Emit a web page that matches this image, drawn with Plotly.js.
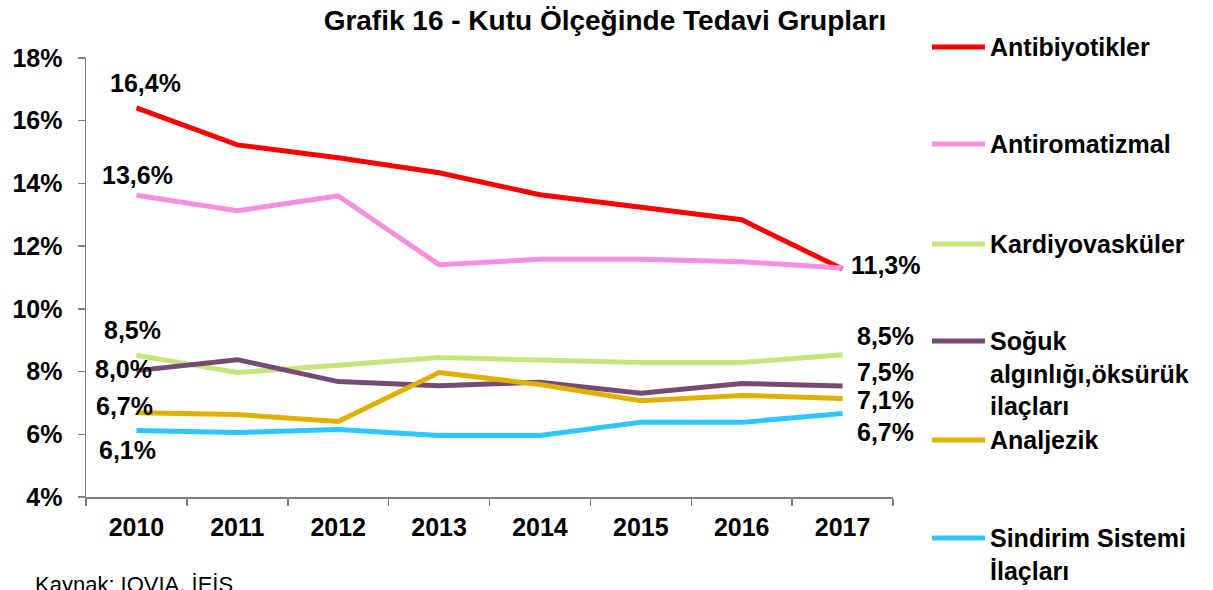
<!DOCTYPE html>
<html>
<head>
<meta charset="utf-8">
<script src="https://cdn.plot.ly/plotly-3.0.1.min.js"></script>
<style>html,body{margin:0;padding:0;background:#fff;}#chart{width:1213px;height:590px;}</style>
</head>
<body>
<div id="chart"></div>
<script>
var years = ['2010','2011','2012','2013','2014','2015','2016','2017'];
var antibiyotikler = [16.41, 15.23, 14.82, 14.34, 13.64, 13.25, 12.84, 11.27];
var antiromatizmal = [13.62, 13.13, 13.60, 11.41, 11.58, 11.58, 11.50, 11.30];
var kardiyovaskuler = [8.52, 7.97, 8.20, 8.45, 8.37, 8.29, 8.29, 8.54];
var soguk = [8.03, 8.38, 7.68, 7.55, 7.66, 7.31, 7.62, 7.54];
var analjezik = [6.69, 6.63, 6.41, 7.97, 7.59, 7.07, 7.24, 7.14];
var sindirim = [6.12, 6.06, 6.15, 5.96, 5.96, 6.38, 6.38, 6.66];
var seriesNames = ['Antibiyotikler', 'Antiromatizmal', 'Kardiyovasküler',
  'Soğuk<br>algınlığı,öksürük<br>ilaçları', 'Analjezik', 'Sindirim Sistemi<br>İlaçları'];
var colors = ['#FF0000', '#F48FE2', '#C6E67A', '#774A76', '#E0B000', '#2CC7FF'];

var seriesData = [antibiyotikler, antiromatizmal, kardiyovaskuler, soguk, analjezik, sindirim];
var font = 'Liberation Sans, Arial, sans-serif';

var traces = seriesData.map(function(vals, i){
  return {x: years, y: vals, type: 'scatter', mode: 'lines', name: seriesNames[i],
    line: {color: colors[i], width: 5}, showlegend: false, hoverinfo: 'x+y'};
});

function fmt(v){ return v.toFixed(1).replace('.', ',') + '%'; }

// label placement (series index, point index, anchor, xshift, yshift)
var labelSpecs = [
  [0, 0, 'center', 9, 25],
  [1, 0, 'center', 1, 20],
  [2, 0, 'center', -4, 25],
  [3, 0, 'center', -13, 2],
  [4, 0, 'center', -12, 7],
  [5, 0, 'center', -9, -19],
  [0, 7, 'left', 6, 4],
  [2, 7, 'left', 12, 19],
  [3, 7, 'left', 12, 14],
  [4, 7, 'left', 12, -1],
  [5, 7, 'left', 12, -18]
];
var annotations = labelSpecs.map(function(s){
  var v = seriesData[s[0]][s[1]];
  return {x: s[1], y: v, xref: 'x', yref: 'y', text: '<b>' + fmt(v) + '</b>',
    showarrow: false, xanchor: s[2], yanchor: 'middle', xshift: s[3], yshift: s[4],
    font: {family: font, size: 25, color: '#000'}};
});

// legend drawn manually to match the irregular spacing; plot area spans x 86..893, y 58..497
var legendY = [47, 144, 244, 341, 440, 538];
var shapes = legendY.map(function(py, i){
  var yp = (497 - py) / (497 - 58);
  return {type: 'line', xref: 'paper', yref: 'paper',
    x0: (932 - 86) / 807, x1: (985 - 86) / 807, y0: yp, y1: yp,
    line: {color: colors[i], width: 5}};
});
legendY.forEach(function(py, i){
  var yp = (497 - py) / (497 - 58);
  annotations.push({xref: 'paper', yref: 'paper', x: (988 - 86) / 807, y: yp,
    text: '<b>' + seriesNames[i] + '</b>', showarrow: false, xanchor: 'left', yanchor: 'top',
    yshift: 16, align: 'left', font: {family: font, size: 25, color: '#000'}});
});
annotations.push({xref: 'paper', yref: 'paper', x: (33 - 86) / 807, y: (497 - 570) / 439,
  text: 'Kaynak: IQVIA, İEİS', showarrow: false, xanchor: 'left', yanchor: 'top',
  font: {family: font, size: 22, color: '#000'}});

var layout = {
  width: 1213, height: 590,
  margin: {l: 86, r: 320, t: 58, b: 93},
  paper_bgcolor: '#fff', plot_bgcolor: '#fff',
  title: {text: '<b>Grafik 16 - Kutu Ölçeğinde Tedavi Grupları</b>', x: 605 / 1213, xref: 'container',
    xanchor: 'center', y: 1 - 20 / 590, yref: 'container', yanchor: 'middle',
    font: {family: font, size: 28, color: '#000'}},
  xaxis: {type: 'category', range: [-0.5, 7.5], tickson: 'boundaries', ticks: 'outside',
    ticklen: 7, tickwidth: 1.5, tickcolor: '#7f7f7f', showline: true, linecolor: '#7f7f7f',
    linewidth: 1.5, showgrid: false, zeroline: false, fixedrange: true,
    tickfont: {family: font, size: 25, color: '#000', weight: 'bold'}, ticklabelstandoff: 7},
  yaxis: {range: [4, 18], dtick: 2, tick0: 4, ticksuffix: '%', ticks: 'outside', ticklen: 7,
    tickwidth: 1.5, tickcolor: '#7f7f7f', showline: true, linecolor: '#7f7f7f', linewidth: 1.5,
    showgrid: false, zeroline: false, fixedrange: true, ticklabelstandoff: 10,
    tickfont: {family: font, size: 25, color: '#000', weight: 'bold'}},
  showlegend: false,
  annotations: annotations,
  shapes: shapes
};

Plotly.newPlot('chart', traces, layout, {displayModeBar: false, staticPlot: true});
</script>
</body>
</html>
